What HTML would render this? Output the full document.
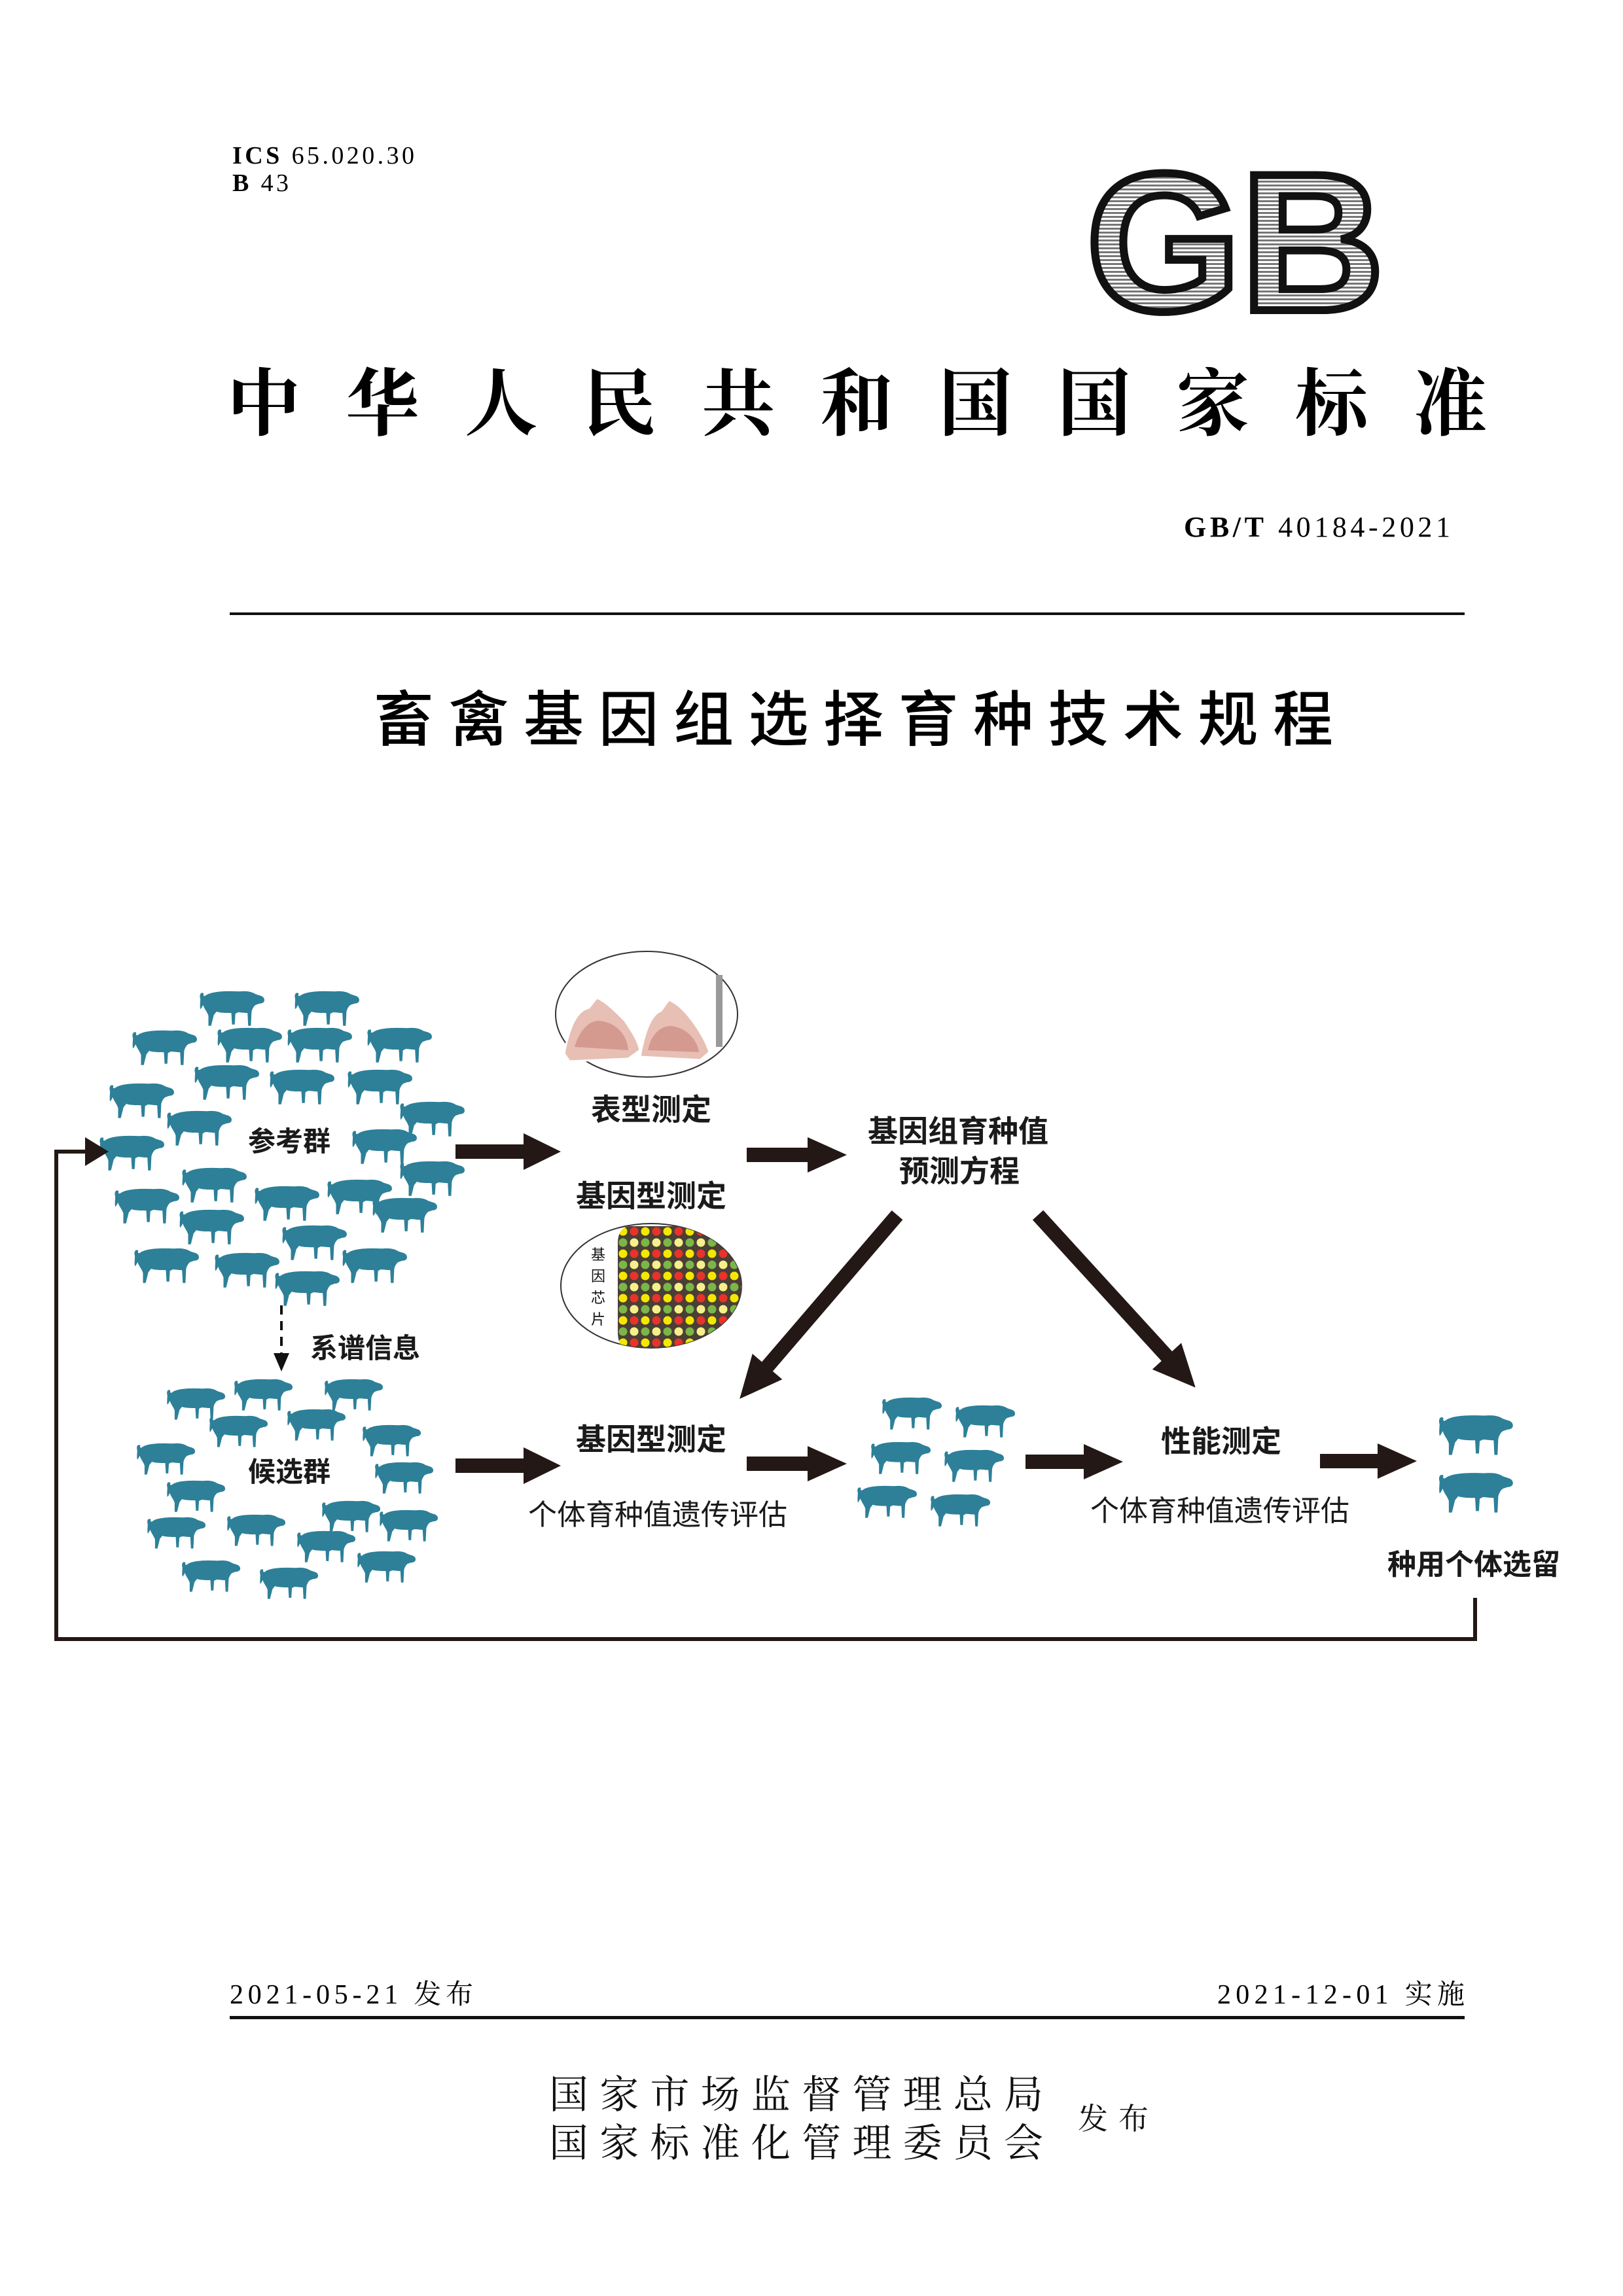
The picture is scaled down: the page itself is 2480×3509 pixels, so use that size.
<!DOCTYPE html>
<html><head><meta charset="utf-8"><style>
html,body{margin:0;padding:0;background:#fff;}
svg{display:block;}
.s{font-family:"Liberation Serif","Noto Serif CJK SC",serif;}
.h{font-family:"Liberation Sans","Noto Sans CJK SC",sans-serif;}
</style></head><body>
<svg width="2480" height="3509" viewBox="0 0 2480 3509" xmlns="http://www.w3.org/2000/svg">
<defs>
<symbol id="pig" viewBox="0 0 100 56">
<path fill="#2d8098" d="M4,14 C2,8 5,3 9,6 C8,9 9,11 12,9 C20,3 40,2 62,3 C72,2 80,3 86,7 L92,9 C96,10 99,12 99,16 C99,19 96,21 92,21 L86,23 C83,25 81,29 80,33 L79,54 L75,54 L74,35 C70,35 64,34 60,34 L56,36 L55,52 L51,52 L50,35 C44,35 34,35 28,33 L24,38 L20,54 L16,54 L16,39 C14,33 10,29 8,23 C6,27 5,29 4,29 C3,25 4,18 4,14 Z"/>
</symbol>
<pattern id="stripe" width="6" height="6" patternUnits="userSpaceOnUse">
<rect width="6" height="6" fill="#fff"/><rect width="6" height="3" fill="#777"/>
</pattern>
<pattern id="dots" x="944" y="1874" width="34" height="34" patternUnits="userSpaceOnUse">
<rect width="34" height="34" fill="#4a3f35"/>
<circle cx="8" cy="8" r="6.5" fill="#f5e800"/>
<circle cx="25" cy="8" r="6.5" fill="#e8322a"/>
<circle cx="8" cy="25" r="6.5" fill="#7ab648"/>
<circle cx="25" cy="25" r="6.5" fill="#f7f08a"/>
</pattern>
<clipPath id="chipclip"><ellipse cx="995" cy="1965" rx="138" ry="95"/></clipPath>
</defs>

<!-- header -->
<text x="355" y="250" class="s" font-size="38" textLength="278" lengthAdjust="spacing"><tspan font-weight="bold">ICS</tspan> 65.020.30</text>
<text x="355" y="292" class="s" font-size="38" textLength="86" lengthAdjust="spacing"><tspan font-weight="bold">B</tspan> 43</text>

<text x="1660" y="474" font-family="Liberation Sans" font-weight="bold" font-size="300" fill="url(#stripe)" stroke="#111" stroke-width="12" textLength="455" lengthAdjust="spacingAndGlyphs">GB</text>

<text x="347" y="656" font-family="'Noto Serif CJK SC','Noto Sans CJK SC',serif" font-weight="bold" font-size="112" textLength="1925" lengthAdjust="spacing">中华人民共和国国家标准</text>

<text x="1809" y="820" class="s" font-size="44" textLength="407" lengthAdjust="spacing"><tspan font-weight="bold">GB/T</tspan>  40184-2021</text>
<rect x="351" y="936" width="1887" height="4" fill="#111"/>

<text x="571" y="1132" class="h" font-size="92" textLength="1466" lengthAdjust="spacing" font-weight="500">畜禽基因组选择育种技术规程</text>

<!-- upper pigs -->
<g>
<use href="#pig" x="302" y="1511" width="103" height="60"/>
<use href="#pig" x="447" y="1511" width="103" height="60"/>
<use href="#pig" x="199" y="1571" width="103" height="60"/>
<use href="#pig" x="329" y="1567" width="103" height="60"/>
<use href="#pig" x="436" y="1567" width="103" height="60"/>
<use href="#pig" x="558" y="1567" width="103" height="60"/>
<use href="#pig" x="294" y="1624" width="103" height="60"/>
<use href="#pig" x="409" y="1631" width="103" height="60"/>
<use href="#pig" x="528" y="1631" width="103" height="60"/>
<use href="#pig" x="164" y="1652" width="103" height="60"/>
<use href="#pig" x="608" y="1680" width="103" height="60"/>
<use href="#pig" x="252" y="1694" width="103" height="60"/>
<use href="#pig" x="149" y="1732" width="103" height="60"/>
<use href="#pig" x="535" y="1722" width="103" height="60"/>
<use href="#pig" x="608" y="1771" width="103" height="60"/>
<use href="#pig" x="275" y="1781" width="103" height="60"/>
<use href="#pig" x="172" y="1813" width="103" height="60"/>
<use href="#pig" x="386" y="1809" width="103" height="60"/>
<use href="#pig" x="497" y="1799" width="103" height="60"/>
<use href="#pig" x="566" y="1827" width="103" height="60"/>
<use href="#pig" x="271" y="1845" width="103" height="60"/>
<use href="#pig" x="428" y="1869" width="103" height="60"/>
<use href="#pig" x="202" y="1904" width="103" height="60"/>
<use href="#pig" x="325" y="1911" width="103" height="60"/>
<use href="#pig" x="520" y="1904" width="103" height="60"/>
<use href="#pig" x="417" y="1939" width="103" height="60"/>
</g>
<!-- lower pigs -->
<g>
<use href="#pig" x="252" y="2118" width="93" height="55"/>
<use href="#pig" x="355" y="2104" width="93" height="55"/>
<use href="#pig" x="493" y="2104" width="93" height="55"/>
<use href="#pig" x="317" y="2160" width="93" height="55"/>
<use href="#pig" x="436" y="2150" width="93" height="55"/>
<use href="#pig" x="551" y="2174" width="93" height="55"/>
<use href="#pig" x="206" y="2202" width="93" height="55"/>
<use href="#pig" x="570" y="2231" width="93" height="55"/>
<use href="#pig" x="252" y="2259" width="93" height="55"/>
<use href="#pig" x="489" y="2290" width="93" height="55"/>
<use href="#pig" x="222" y="2315" width="93" height="55"/>
<use href="#pig" x="344" y="2311" width="93" height="55"/>
<use href="#pig" x="577" y="2304" width="93" height="55"/>
<use href="#pig" x="451" y="2336" width="93" height="55"/>
<use href="#pig" x="275" y="2381" width="93" height="55"/>
<use href="#pig" x="394" y="2392" width="93" height="55"/>
<use href="#pig" x="543" y="2367" width="93" height="55"/>
</g>
<!-- middle & right pigs -->
<use href="#pig" x="1345" y="2132" width="95" height="56"/>
<use href="#pig" x="1457" y="2144" width="95" height="56"/>
<use href="#pig" x="1328" y="2200" width="95" height="56"/>
<use href="#pig" x="1440" y="2212" width="95" height="56"/>
<use href="#pig" x="1307" y="2267" width="95" height="56"/>
<use href="#pig" x="1419" y="2280" width="95" height="56"/>
<use href="#pig" x="2195" y="2158" width="118" height="70"/>
<use href="#pig" x="2195" y="2246" width="118" height="70"/>

<!-- diagram labels -->
<g class="h" font-size="42" fill="#1a1a1a" text-anchor="middle" font-weight="bold">
<text x="442" y="1759">参考群</text>
<text x="558" y="2075">系谱信息</text>
<text x="442" y="2264">候选群</text>
<text x="995" y="1712" font-size="46">表型测定</text>
<text x="995" y="1844" font-size="46">基因型测定</text>
<text x="995" y="2216" font-size="46">基因型测定</text>
<text x="1005" y="2330" font-size="44" font-weight="normal">个体育种值遗传评估</text>
<text x="1464" y="1745" font-size="46">基因组育种值</text>
<text x="1466" y="1806" font-size="46">预测方程</text>
<text x="1866" y="2219" font-size="46">性能测定</text>
<text x="1864" y="2324" font-size="44" font-weight="normal">个体育种值遗传评估</text>
<text x="2252" y="2406" font-size="44">种用个体选留</text>
</g>

<!-- dashed pedigree arrow -->
<line x1="430" y1="1995" x2="430" y2="2072" stroke="#111" stroke-width="4" stroke-dasharray="14,10"/>
<polygon points="418,2068 442,2068 430,2096" fill="#111"/>

<!-- horizontal arrows -->
<g fill="#231815">
<polygon points="696,1749 800,1749 800,1732 857,1760 800,1788 800,1771 696,1771"/>
<polygon points="1141,1754 1234,1754 1234,1738 1294,1765 1234,1792 1234,1776 1141,1776"/>
<polygon points="696,2229 800,2229 800,2212 857,2240 800,2268 800,2251 696,2251"/>
<polygon points="1141,2226 1234,2226 1234,2210 1294,2237 1234,2264 1234,2248 1141,2248"/>
<polygon points="1567,2223 1656,2223 1656,2207 1716,2234 1656,2261 1656,2245 1567,2245"/>
<polygon points="2017,2222 2105,2222 2105,2206 2165,2233 2105,2260 2105,2244 2017,2244"/>
<g transform="translate(1371,1857) rotate(130.6)">
<polygon points="0,-11 305,-11 305,-30 370,0 305,30 305,11 0,11"/>
</g>
<g transform="translate(1586,1857) rotate(47.6)">
<polygon points="0,-11 292,-11 292,-30 357,0 292,30 292,11 0,11"/>
</g>
</g>

<!-- feedback loop -->
<polyline points="2254,2442 2254,2505 86,2505 86,1760 135,1760" fill="none" stroke="#231815" stroke-width="6"/>
<polygon points="130,1738 166,1760 130,1782" fill="#231815"/>

<!-- meat ellipse -->
<ellipse cx="988" cy="1550" rx="139" ry="96" fill="#fff" stroke="#333" stroke-width="2"/>
<path d="M862,1610 C870,1570 880,1545 900,1540 L912,1525 C925,1530 940,1545 955,1560 C965,1575 975,1590 978,1605 L960,1618 L870,1622 Z" fill="#e8bfb4" stroke="#fff" stroke-width="3"/>
<path d="M878,1600 C885,1575 900,1560 915,1560 C940,1562 958,1580 960,1605 Z" fill="#d49a90"/>
<path d="M978,1615 C985,1575 995,1550 1010,1545 L1022,1528 C1040,1535 1055,1555 1065,1570 C1075,1585 1082,1600 1084,1608 L1070,1620 Z" fill="#e8bfb4" stroke="#fff" stroke-width="3"/>
<path d="M990,1605 C995,1580 1010,1568 1025,1568 C1048,1570 1065,1588 1068,1608 Z" fill="#d49a90"/>
<rect x="1094" y="1490" width="10" height="110" fill="#999"/>

<!-- chip ellipse -->
<ellipse cx="995" cy="1965" rx="138" ry="95" fill="#fff" stroke="#333" stroke-width="2"/>
<path d="M964,1874 L1140,1874 L1140,2062 L964,2062 C948,2062 944,2050 944,2035 L944,1900 C944,1885 950,1874 964,1874 Z" fill="url(#dots)" clip-path="url(#chipclip)"/>
<g class="h" font-size="22" text-anchor="middle" fill="#111">
<text x="914" y="1925">基</text><text x="914" y="1958">因</text><text x="914" y="1991">芯</text><text x="914" y="2024">片</text>
</g>

<!-- footer -->
<text x="351" y="3062" class="s" font-size="42" textLength="372" lengthAdjust="spacing">2021-05-21 发布</text>
<text x="1860" y="3062" class="s" font-size="42" textLength="378" lengthAdjust="spacing">2021-12-01 实施</text>
<rect x="351" y="3081" width="1887" height="5" fill="#111"/>
<g font-family="'Noto Serif CJK SC','Noto Sans CJK SC',serif" font-size="60" fill="#111">
<text x="839" y="3222" textLength="755" lengthAdjust="spacing">国家市场监督管理总局</text>
<text x="839" y="3296" textLength="755" lengthAdjust="spacing">国家标准化管理委员会</text>
<text x="1647" y="3254" font-size="46" textLength="108" lengthAdjust="spacing">发布</text>
</g>
</svg>
</body></html>
